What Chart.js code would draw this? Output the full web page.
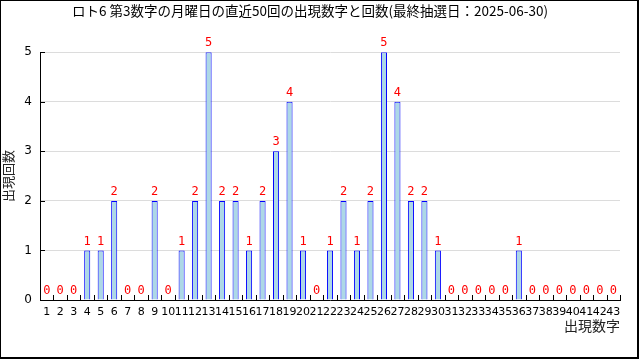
<!DOCTYPE html>
<html>
<head>
<meta charset="utf-8">
<script src="https://cdn.jsdelivr.net/npm/chart.js@4/dist/chart.umd.min.js"></script>
<style>
  body { margin: 0; background: #fff; }
  canvas { display: block; }
</style>
</head>
<body>
<canvas id="lotoChart" width="640" height="360"></canvas>
<script>
// 出現数字 1..43
const numbers = [];
for (let n = 1; n <= 43; n++) numbers.push(String(n));

// 直近50回の出現回数
const counts = [
    0, 0, 0, 1, 1, 2, 0, 0, 2, 0,
    1, 2, 5, 2, 2, 1, 2, 3, 4, 1,
    0, 1, 2, 1, 2, 5, 4, 2, 2, 1,
    0, 0, 0, 0, 0, 1, 0, 0, 0, 0,
    0, 0, 0
];

const yTicks = [0, 1, 2, 3, 4, 5];

const titleText = 'ロト6 第3数字の月曜日の直近50回の出現数字と回数(最終抽選日：2025-06-30)';

// labels above bars, inward tick marks and outer frame
const extras = {
    id: 'extras',
    afterDatasetsDraw(chart) {
        const ctx = chart.ctx;
        const meta = chart.getDatasetMeta(0);
        const xs = chart.scales.x;
        const ys = chart.scales.y;

        ctx.save();
        ctx.fillStyle = '#ff0000';
        ctx.font = '12px "DejaVu Sans Mono"';
        ctx.textAlign = 'center';
        ctx.textBaseline = 'bottom';
        meta.data.forEach(function(bar, i) {
            ctx.fillText(String(counts[i]), bar.x, bar.y - 3);
        });

        ctx.strokeStyle = '#000';
        ctx.lineWidth = 1;
        ctx.beginPath();
        const step = xs.width / numbers.length;
        for (let i = 1; i <= numbers.length; i++) {
            const x = Math.round(xs.left + i * step) + 0.5;
            ctx.moveTo(x, ys.bottom);
            ctx.lineTo(x, ys.bottom - 5);
        }
        yTicks.forEach(function(v) {
            const y = Math.round(ys.getPixelForValue(v)) + 0.5;
            ctx.moveTo(xs.left, y);
            ctx.lineTo(xs.left + 5, y);
        });
        ctx.stroke();

        ctx.lineWidth = 2;
        ctx.strokeRect(0, 0, 638, 358);
        ctx.restore();
    }
};

const ctx = document.getElementById('lotoChart').getContext('2d');
new Chart(ctx, {
    type: 'bar',
    data: {
        labels: numbers,
        datasets: [{
            data: counts,
            backgroundColor: '#add8e6',
            borderColor: '#0000ff',
            borderWidth: 1,
            barPercentage: 0.45,
            categoryPercentage: 1.0
        }]
    },
    options: {
        responsive: false,
        animation: false,
        layout: { padding: { left: 0, right: 20, top: 0, bottom: 26 } },
        plugins: {
            legend: { display: false },
            tooltip: { enabled: false },
            title: {
                display: true,
                text: titleText,
                color: '#000',
                font: { family: '"Noto Sans CJK JP"', size: 13.5, weight: 'normal' },
                padding: { top: 3, bottom: 33 }
            }
        },
        scales: {
            x: {
                offset: true,
                grid: { display: false, drawTicks: false },
                border: { color: '#000', width: 1 },
                afterFit: function(scale) { scale.height = 34; },
                ticks: {
                    color: '#000',
                    autoSkip: false,
                    maxRotation: 0,
                    padding: 6,
                    font: { family: '"DejaVu Sans"', size: 11 }
                },
                title: {
                    display: true,
                    text: '出現数字',
                    align: 'end',
                    color: '#222',
                    font: { family: '"Noto Sans CJK JP"', size: 14 },
                    padding: { top: 0, bottom: 0 }
                }
            },
            y: {
                min: 0,
                max: 5,
                afterBuildTicks: function(scale) {
                    scale.ticks = yTicks.map(v => ({ value: v }));
                },
                afterFit: function(scale) { scale.width = 40; },
                grid: { color: '#dcdcdc', drawTicks: false },
                border: { color: '#000', width: 1 },
                ticks: {
                    color: '#000',
                    padding: 8,
                    font: { family: '"DejaVu Sans"', size: 12 }
                },
                title: {
                    display: true,
                    text: '出現回数',
                    color: '#222',
                    font: { family: '"Noto Sans CJK JP"', size: 13 },
                    padding: { top: 0, bottom: 4 }
                }
            }
        }
    },
    plugins: [extras]
});
</script>
</body>
</html>
